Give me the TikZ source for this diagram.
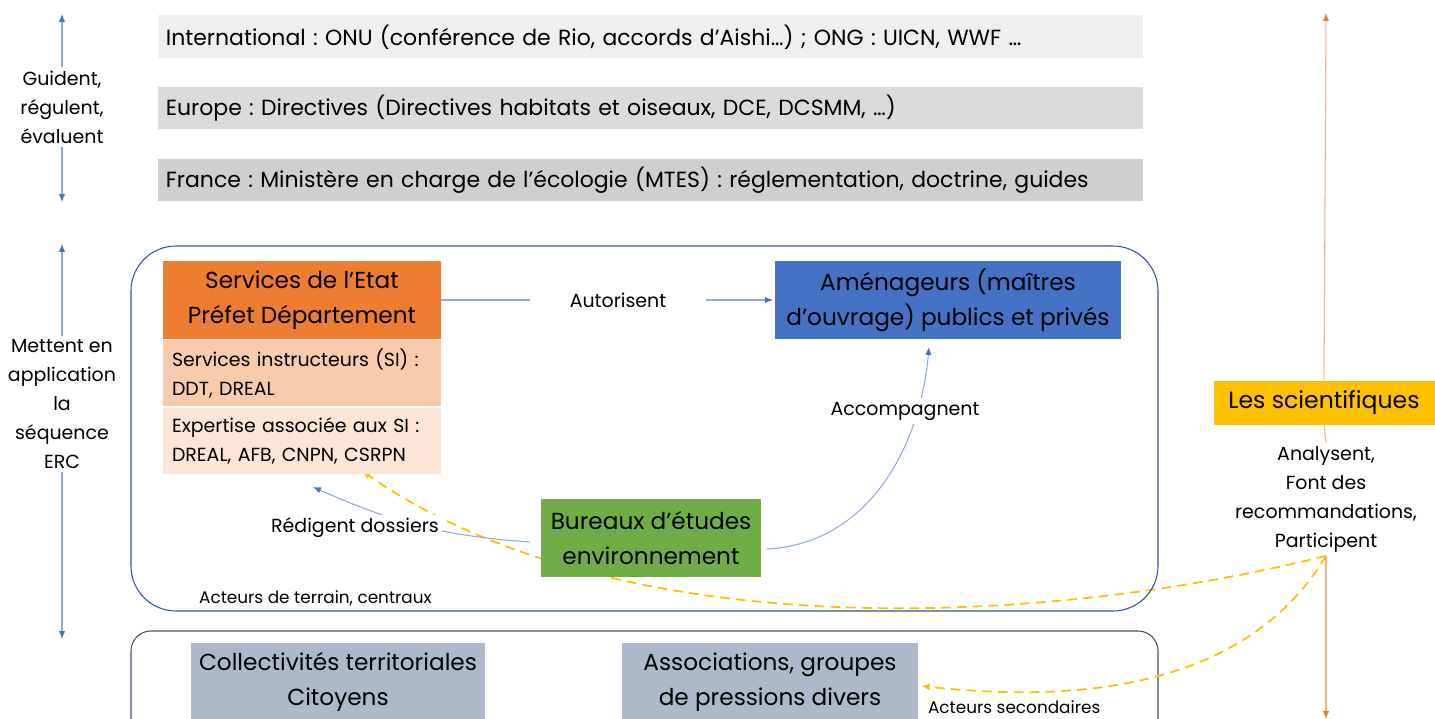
\documentclass[tikz,border=0pt]{standalone}
\usepackage{fontspec}
\setmainfont{Poppins}
\usetikzlibrary{arrows.meta,backgrounds}
\frenchspacing

\definecolor{bandA}{HTML}{EFEFEF}
\definecolor{bandB}{HTML}{DBDBDB}
\definecolor{bandC}{HTML}{CFCFCF}
\definecolor{etatOr}{HTML}{ED7D31}
\definecolor{instrOr}{HTML}{F8CBAD}
\definecolor{expertOr}{HTML}{FBE5D6}
\definecolor{amenBlue}{HTML}{4472C4}
\definecolor{bureauGreen}{HTML}{70AD47}
\definecolor{sciYellow}{HTML}{FFC000}
\definecolor{acteurGray}{HTML}{ADB9CA}
\definecolor{frameBlue}{HTML}{2F5597}
\definecolor{frameGray}{HTML}{44546A}
\definecolor{lineBlue}{HTML}{8FAADC}
\definecolor{lineOr}{HTML}{F4B183}

\newcommand{\fsBand}{\fontsize{12.5}{15}\selectfont}
\newcommand{\fsBig}{\fontsize{13.2}{20}\selectfont}
\newcommand{\fsMid}{\fontsize{10.8}{16.5}\selectfont}
\newcommand{\fsSmall}{\fontsize{9.6}{11}\selectfont}
\newcommand{\fsSci}{\fontsize{13.4}{16}\selectfont}

\tikzset{
  band/.style={anchor=west, minimum height=0.86cm, text width=19.4cm,
    inner xsep=0.15cm, align=left, font=\fsBand},
  titlebox/.style={minimum height=1.56cm, align=center, font=\fsBig, inner sep=0pt},
  subbox/.style={minimum width=5.56cm, minimum height=1.32cm, text width=5.2cm,
    inner xsep=0.18cm, align=left, font=\fsMid},
  lbl/.style={align=center, font=\fsMid, inner sep=2pt, text=black},
  vflow/.style={lineBlue, line width=0.6pt, -{Latex[length=4.5pt,width=3.6pt,color=amenBlue]}},
  flow/.style={lineBlue, line width=0.6pt, -{Latex[length=4.5pt,width=3.6pt,color=amenBlue]}},
  oflow/.style={lineOr, line width=0.6pt, -{Latex[length=4.5pt,width=3.6pt,color=etatOr]}},
  yflow/.style={sciYellow, line width=1pt, dash pattern=on 5.5pt off 3.5pt,
    -{Latex[length=5pt,width=4pt]}},
}

\begin{document}
\begin{tikzpicture}[x=0.02cm,y=-0.02cm]
  \clip (0,0) rectangle (1435,719);

  % niveaux de cadrage
  \node[band, fill=bandA] (intl) at (158,37)
    {International : ONU (conférence de Rio, accords d’Aishi…) ; ONG : UICN, WWF …};
  \node[band, fill=bandB] (europe) at (158,108)
    {Europe : Directives (Directives habitats et oiseaux, DCE, DCSMM, …)};
  \node[band, fill=bandC] (france) at (158,180)
    {France : Ministère en charge de l’écologie (MTES) : réglementation, doctrine, guides};

  % cadres des acteurs
  \draw[frameBlue, line width=0.6pt, rounded corners=0.9cm] (131,246) rectangle (1158,611);
  \draw[frameGray, line width=0.6pt, rounded corners=0.4cm] (131,631) rectangle (1158,780);

  % acteurs de terrain
  \node[titlebox, fill=etatOr, minimum width=5.56cm] (etat) at (302,300)
    {Services de l’Etat\\Préfet Département};
  \node[subbox, fill=instrOr, anchor=north] (instr) at (302,340)
    {Services instructeurs (SI) :\\DDT, DREAL};
  \node[subbox, fill=expertOr, anchor=north] (expert) at (302,408)
    {Expertise associée aux SI :\\DREAL, AFB, CNPN, CSRPN};
  \node[titlebox, fill=amenBlue, minimum width=6.92cm] (amen) at (948,300)
    {Aménageurs (maîtres\\d’ouvrage) publics et privés};
  \node[titlebox, fill=bureauGreen, minimum width=4.4cm] (bureau) at (651,538)
    {Bureaux d’études\\environnement};
  \node[font=\fsSmall, anchor=west] (terrain) at (193,598) {Acteurs de terrain, centraux};

  % acteurs secondaires
  \node[titlebox, fill=acteurGray, minimum width=5.88cm] (collect) at (338,682)
    {Collectivités territoriales\\Citoyens};
  \node[titlebox, fill=acteurGray, minimum width=5.92cm] (assoc) at (770,682)
    {Associations, groupes\\de pressions divers};
  \node[font=\fsSmall, anchor=west, inner sep=1pt] (second) at (926,707) {Acteurs secondaires};

  % scientifiques
  \node[fill=sciYellow, font=\fsSci, minimum width=4.42cm, minimum height=0.88cm,
    inner sep=0pt] (sci) at (1324,403) {Les scientifiques};
  \node[lbl] (anal) at (1326,499)
    {Analysent,\\Font des\\recommandations,\\Participent};

  % textes de gauche
  \node[lbl] (guide) at (62,107) {Guident,\\régulent,\\évaluent};
  \node[lbl] (mettent) at (62,404) {Mettent en\\application\\la\\séquence\\ERC};

  \coordinate (gTop) at (62,14);
  \coordinate (gBot) at (62,202);
  \coordinate (mTop) at (62,244);
  \coordinate (mBot) at (62,639);
  \coordinate (sTop) at (1326,13);
  \coordinate (sBot) at (1326,719);
  \draw[vflow] (guide.north) -- (gTop);
  \draw[vflow] (guide.south) -- (gBot);
  \draw[vflow] (mettent.north) -- (mTop);
  \draw[vflow] (mettent.south) -- (mBot);
  \draw[oflow] (sci.north) -- (sTop);
  \draw[lineOr, line width=0.6pt] (sci.south) -- (anal.north);
  \draw[oflow] (anal.south) -- (sBot);

  % relations
  \draw[flow, shorten >=1pt] (etat.east) -- node[lbl, fill=white, pos=0.53, inner xsep=0.8cm] (autor)
    {Autorisent} (amen.west);

  \coordinate (accStart) at (767,549);
  \coordinate (accTip) at (929,347);
  \draw[flow] (accStart) to[out=3,in=-95] (accTip);
  \node[lbl, fill=white] (accomp) at (905,411) {Accompagnent};

  \coordinate (redStart) at (530,542);
  \coordinate (redTip) at (313,487);
  \draw[flow] (redStart) to[out=176,in=-24] (redTip);
  \node[lbl, fill=white] (redige) at (355,528) {Rédigent dossiers};

  \coordinate (sciPt) at (anal.south);
  \coordinate (expTip) at (362,471);
  \coordinate (assTip) at (921,686);
  \begin{scope}[on background layer]
    \draw[yflow] (sciPt) .. controls (1050,625) and (620,650) .. (expTip);
  \end{scope}
  \draw[yflow] (sciPt) .. controls (1240,700) and (1050,700) .. (assTip);
\end{tikzpicture}
\end{document}
